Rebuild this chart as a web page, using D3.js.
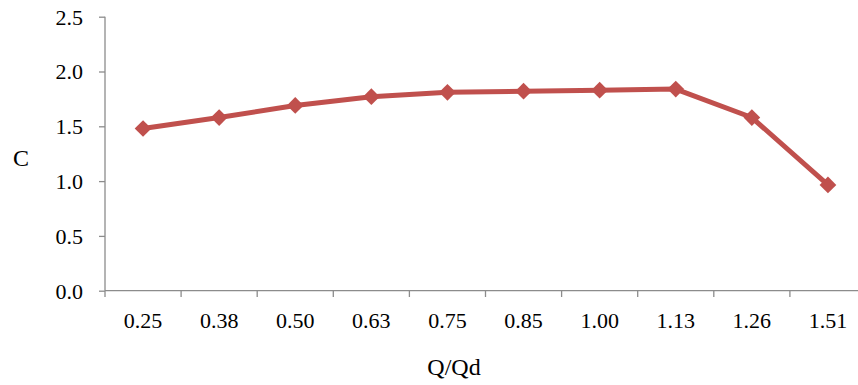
<!DOCTYPE html>
<html><head><meta charset="utf-8">
<script src="https://cdn.jsdelivr.net/npm/d3@7"></script>
<style>
body{margin:0;background:#fff;}
svg{display:block;}
svg text{font-family:"Liberation Serif","Times New Roman",serif;fill:#000;}
</style></head>
<body>
<svg id="chart" width="858" height="385"></svg>
<script>
const categories = ["0.25","0.38","0.50","0.63","0.75","0.85","1.00","1.13","1.26","1.51"];
const values = [1.48, 1.58, 1.69, 1.77, 1.81, 1.82, 1.83, 1.84, 1.58, 0.965];
const yTicks = [0, 0.5, 1.0, 1.5, 2.0, 2.5];
const xTitle = "Q/Qd";
const yTitle = "C";

const svg = d3.select("#chart");
const x = d3.scaleBand().domain(categories).range([105, 866]);
const y = d3.scaleLinear().domain([0, 2.5]).range([290.7, 16.7]);
const axisColor = "#8c8c8c";

// Y axis
const ya = svg.append("g").attr("transform","translate(105,0)")
  .call(d3.axisLeft(y).tickValues(yTicks).tickFormat(d3.format(".1f")).tickSize(6).tickPadding(16));
ya.select(".domain").attr("stroke",axisColor).attr("stroke-width",1.3).attr("d","M0,16.7V290.7");
ya.selectAll(".tick line").attr("stroke",axisColor).attr("stroke-width",1.3);
ya.selectAll(".tick text").style("font-size","22px").attr("dy","0.34em");

// X axis
const xa = svg.append("g").attr("transform","translate(0,290.7)")
  .call(d3.axisBottom(x).tickSize(0));
xa.select(".domain").attr("stroke",axisColor).attr("stroke-width",1.3).attr("d","M105,0H858");
xa.selectAll(".tick text").style("font-size","22px").attr("y",37).attr("dy",0);
// boundary ticks between categories
const bounds = categories.map(c => x(c));
svg.append("g").selectAll("line").data(bounds).join("line")
  .attr("x1",d=>d).attr("x2",d=>d).attr("y1",290.7).attr("y2",297)
  .attr("stroke",axisColor).attr("stroke-width",1.3);

// Line
const cx = c => x(c) + x.bandwidth()/2;
const line = d3.line().x((d,i)=>cx(categories[i])).y(d=>y(d));
svg.append("path").datum(values).attr("d",line)
  .attr("fill","none").attr("stroke","#C0504D").attr("stroke-width",5).attr("stroke-linejoin","round");

// Markers
svg.append("g").selectAll("path").data(values).join("path")
  .attr("d", d3.symbol().type(d3.symbolSquare).size(140))
  .attr("transform",(d,i)=>`translate(${cx(categories[i])},${y(d)}) rotate(45)`)
  .attr("fill","#C0504D");

// Titles
svg.append("text").attr("x",454).attr("y",375).attr("text-anchor","middle")
  .style("font-size","24px").text(xTitle);
svg.append("text").attr("x",21).attr("y",166).attr("text-anchor","middle")
  .style("font-size","24px").text(yTitle);
</script>
</body></html>
